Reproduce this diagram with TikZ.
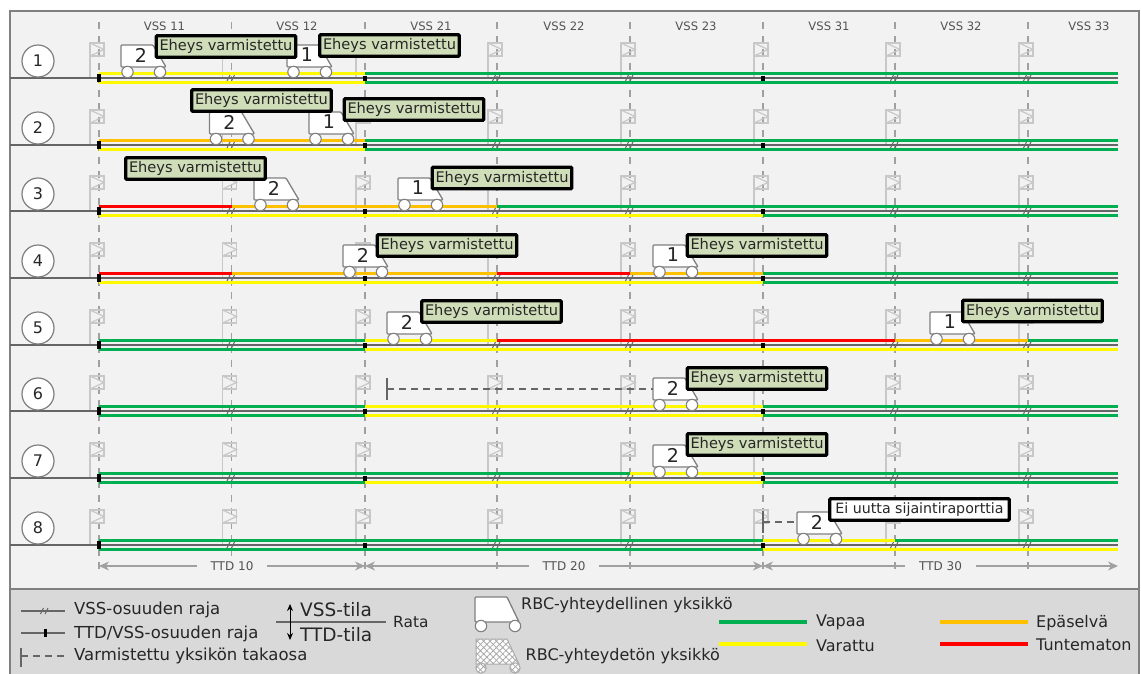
\documentclass[tikz,border=0pt]{standalone}
\usepackage{fontspec}
\setmainfont{DejaVu Sans}
\usepackage{xcolor}
\definecolor{panelbg}{HTML}{F2F2F2}
\definecolor{legendbg}{HTML}{D9D9D9}
\definecolor{framegray}{HTML}{808080}
\definecolor{bordergray}{HTML}{A0A0A0}
\definecolor{flaggray}{HTML}{C8C8C8}
\definecolor{railgray}{HTML}{666666}
\definecolor{textdark}{HTML}{262626}
\definecolor{vapaacol}{HTML}{00B050}
\definecolor{varattucol}{HTML}{FFF900}
\definecolor{epaselvacol}{HTML}{FFC000}
\definecolor{tuntematoncol}{HTML}{FF0000}
\definecolor{eheysbg}{HTML}{D0DDB9}
\usetikzlibrary{arrows.meta,patterns.meta}

\newcommand{\unitcar}[3]{% x, track y, number
  \draw[carbody] (#1,#2-33) -- (#1+32,#2-33) -- (#1+45,#2-11) -- (#1,#2-11) -- cycle;
  \draw[carwheel] (#1+6.5,#2-6) circle (5.7);
  \draw[carwheel] (#1+39,#2-6) circle (5.7);
  \node[carnum] at (#1+20,#2-23) {#3};
}
\newcommand{\vssmark}[2]{% the double slash on a track
  \draw[slash] (#1-4.5,#2+3) -- (#1-1.5,#2-3);
  \draw[slash] (#1,#2+3) -- (#1+3,#2-3);
}

\begin{document}
\begin{tikzpicture}[
  x=1pt,y=-1pt,
  panel/.style={draw=framegray,line width=1.5pt,fill=panelbg},
  legendpanel/.style={draw=framegray,line width=1.5pt,fill=legendbg},
  border/.style={draw=bordergray,line width=1.2pt,dash pattern=on 7pt off 6.5pt},
  flag/.style={draw=flaggray,line width=1.2pt},
  offline/.style={draw=flaggray!85!black,line width=1pt,preaction={fill=white},
                  pattern={Hatch[angle=45,distance=4.5pt,line width=.8pt]},pattern color=flaggray!85!black},
  track/.style={draw=railgray,line width=1.1pt},
  rail/.style={line width=3.5pt},
  vapaa/.style={draw=vapaacol},
  varattu/.style={draw=varattucol},
  epaselva/.style={draw=epaselvacol},
  tuntematon/.style={draw=tuntematoncol},
  ttdmark/.style={draw=black,line width=3.5pt},
  slash/.style={draw=railgray,line width=1pt},
  rownum/.style={draw=framegray,line width=1.2pt,fill=white,circle,minimum size=32pt,inner sep=0pt,
                 font=\fontsize{16}{18}\selectfont,text=textdark},
  vsslabel/.style={font=\fontsize{11.6}{13}\selectfont,text=railgray!80!black},
  carbody/.style={draw=framegray,line width=1.3pt,fill=white,rounded corners=1pt},
  carwheel/.style={draw=framegray,line width=1.1pt,fill=white},
  carnum/.style={font=\fontsize{19}{21}\selectfont,text=textdark,inner sep=0pt},
  eheys/.style={draw=black,line width=3.4pt,fill=eheysbg,rounded corners=1pt,
                minimum width=139.5pt,minimum height=21.5pt,inner sep=0pt,
                font=\fontsize{14.6}{17}\selectfont,text=textdark},
  noreport/.style={eheys,fill=white,minimum width=179.5pt,font=\fontsize{14.2}{17}\selectfont},
  tailend/.style={draw=railgray,line width=1.3pt},
  tail/.style={draw=railgray,line width=1.3pt,dash pattern=on 7pt off 5pt},
  ttdarrow/.style={draw=bordergray,line width=1.1pt,{Stealth[length=10pt,width=9pt]}-{Stealth[length=10pt,width=9pt]}},
  ttdlabel/.style={fill=panelbg,inner xsep=14pt,inner ysep=1pt,font=\fontsize{12}{14}\selectfont,text=railgray!80!black},
  legendtext/.style={anchor=west,inner sep=0pt,font=\fontsize{16.5}{19}\selectfont,text=textdark},
  statetext/.style={legendtext,font=\fontsize{16}{19}\selectfont}
]
\useasboundingbox (0,0) rectangle (1141,673);
\draw[panel] (10,11) rectangle (1139,589);
\draw[legendpanel] (10,589) rectangle (1139,680);

% VSS borders and names
\foreach \xb in {99,231.5,365,497,630,763,895,1028}
  \draw[border] (\xb,22) -- (\xb,570);
\foreach \xv/\nm in {164.5/11,297/12,431/21,564/22,696/23,829/31,961/32,1089/33}
  \node[vsslabel] (vss\nm) at (\xv,26) {VSS \nm};

% rows: track y, upper rail (VSS), lower rail (TTD)
\foreach \rownr/\ty/\upper/\lower in {
  1/78/{99/365/varattu,365/1118/vapaa}/{99/365/varattu,365/1118/vapaa},
  2/145/{99/365/epaselva,365/1118/vapaa}/{99/365/varattu,365/1118/vapaa},
  3/211/{99/231.5/tuntematon,231.5/497/epaselva,497/1118/vapaa}/{99/763/varattu,763/1118/vapaa},
  4/278/{99/231.5/tuntematon,231.5/497/epaselva,497/630/tuntematon,630/763/epaselva,763/1118/vapaa}/{99/763/varattu,763/1118/vapaa},
  5/345/{99/365/vapaa,365/497/varattu,497/895/tuntematon,895/1028/epaselva,1028/1118/vapaa}/{99/365/vapaa,365/1118/varattu},
  6/411/{99/365/vapaa,365/763/varattu,763/1118/vapaa}/{99/365/vapaa,365/763/varattu,763/1118/vapaa},
  7/478/{99/630/vapaa,630/763/varattu,763/1118/vapaa}/{99/365/vapaa,365/763/varattu,763/1118/vapaa},
  8/545/{99/763/vapaa,763/895/varattu,895/1118/vapaa}/{99/763/vapaa,763/1118/varattu}}{
  \foreach \xb in {99,231.5,365,497,630,763,895,1028}{
    \draw[flag] (\xb-9,\ty) -- (\xb-9,\ty-22);
    \draw[flag] (\xb-9,\ty-35) rectangle (\xb+5,\ty-22);
    \draw[flag] (\xb-9,\ty-35) -- (\xb+5,\ty-28.5) -- (\xb-9,\ty-22);
  }
  \draw[track] (10,\ty) -- (1118,\ty);
  \foreach \xa/\xc/\state in \upper
    \draw[rail,\state] (\xa,\ty-4.5) -- (\xc,\ty-4.5);
  \foreach \xa/\xc/\state in \lower
    \draw[rail,\state] (\xa,\ty+4.5) -- (\xc,\ty+4.5);
  \foreach \xb in {231.5,497,630,895,1028}{
    \vssmark{\xb}{\ty}
  }
  \draw[ttdmark] (99,\ty-4) -- (99,\ty+4);
  \draw[ttdmark] (365,\ty-2.5) -- (365,\ty+2.5);
  \draw[ttdmark] (763,\ty-2.5) -- (763,\ty+2.5);
  \node[rownum] (row\rownr) at (38,\ty-17) {\rownr};
}

% units
\foreach \xc/\ty/\nr in {121/78/2,287/78/1,209.5/145/2,309/145/1,254/211/2,398/211/1,
                         343/278/2,653/278/1,387/345/2,930/345/1,653/411/2,653/478/2,797/545/2}{
  \unitcar{\xc}{\ty}{\nr}
}

% confirmed rear ends
\coordinate (tail6) at (387,389);
\coordinate (car6) at (653,389);
\coordinate (tail8) at (763,522);
\coordinate (car8) at (797,522);
\draw[tailend] (387,378) -- (387,400);
\draw[tail] (tail6) -- (car6);
\draw[tailend] (763,511) -- (763,533);
\draw[tail] (tail8) -- (car8);

% integrity labels
\foreach \nm/\xl/\yl in {a/226/46.5,b/389.5/45.5,c/261.5/100.5,d/414/109.5,e/195.5/168.5,f/502/178,
                         g/447/245.5,h/757/245.5,i/491.5/311.5,j/1032.5/311,k/757/378.5,l/757/444.5}
  \node[eheys] (ok\nm) at (\xl,\yl) {Eheys varmistettu};
\node[noreport] (noreport) at (919.5,509.5) {Ei uutta sijaintiraporttia};

% TTD sections
\foreach \xa/\xc/\nm in {99/365/10,365/763/20,763/1118/30}
  \draw[ttdarrow] (\xa,566) -- node[ttdlabel] (ttd\nm) {TTD \nm} (\xc,566);

% legend
\draw[track] (21,611) -- (65,611);
\vssmark{45}{611}
\node[legendtext] (lvss) at (74,610) {VSS-osuuden raja};
\draw[track] (21,633) -- (65,633);
\draw[ttdmark,line width=3pt] (45,629) -- (45,637);
\node[legendtext] (lttd) at (74,634) {TTD/VSS-osuuden raja};
\draw[tailend] (21,648) -- (21,667);
\draw[tail] (21,656) -- (65,656);
\node[legendtext] (lrear) at (74,656) {Varmistettu yksikön takaosa};

\draw[track] (276,622) -- (386,622);
\draw[draw=black,line width=1pt,-{Stealth[length=7pt,width=6pt]}] (290,622) -- (290,604);
\draw[draw=black,line width=1pt,-{Stealth[length=7pt,width=6pt]}] (290,622) -- (290,640);
\node[legendtext,font=\fontsize{18.5}{21}\selectfont] (lvsstila) at (300,610) {VSS-tila};
\node[legendtext,font=\fontsize{18.5}{21}\selectfont] (lttdtila) at (300,635) {TTD-tila};
\node[legendtext,font=\fontsize{15.4}{18}\selectfont] (lrata) at (393,622) {Rata};

\draw[carbody] (475,597) -- (507,597) -- (519,622) -- (475,622) -- cycle;
\draw[carwheel] (481,626) circle (5.7);
\draw[carwheel] (515,626) circle (5.7);
\node[statetext] (lon) at (521,605) {RBC-yhteydellinen yksikkö};
\draw[offline] (476,639) -- (507,639) -- (519,664) -- (476,664) -- cycle;
\draw[offline] (481,668) circle (5.2);
\draw[offline] (515,668) circle (5.2);
\node[statetext] (loff) at (525.5,656) {RBC-yhteydetön yksikkö};

\draw[rail,vapaa] (719,622) -- (807,622);
\node[statetext] (lvapaa) at (816,622) {Vapaa};
\draw[rail,varattu] (719,644) -- (807,644);
\node[statetext] (lvarattu) at (816,646) {Varattu};
\draw[rail,epaselva] (940,622) -- (1028,622);
\node[statetext] (lepaselva) at (1036,623) {Epäselvä};
\draw[rail,tuntematon] (940,644) -- (1028,644);
\node[statetext] (ltuntematon) at (1036,645) {Tuntematon};
\end{tikzpicture}
\end{document}
